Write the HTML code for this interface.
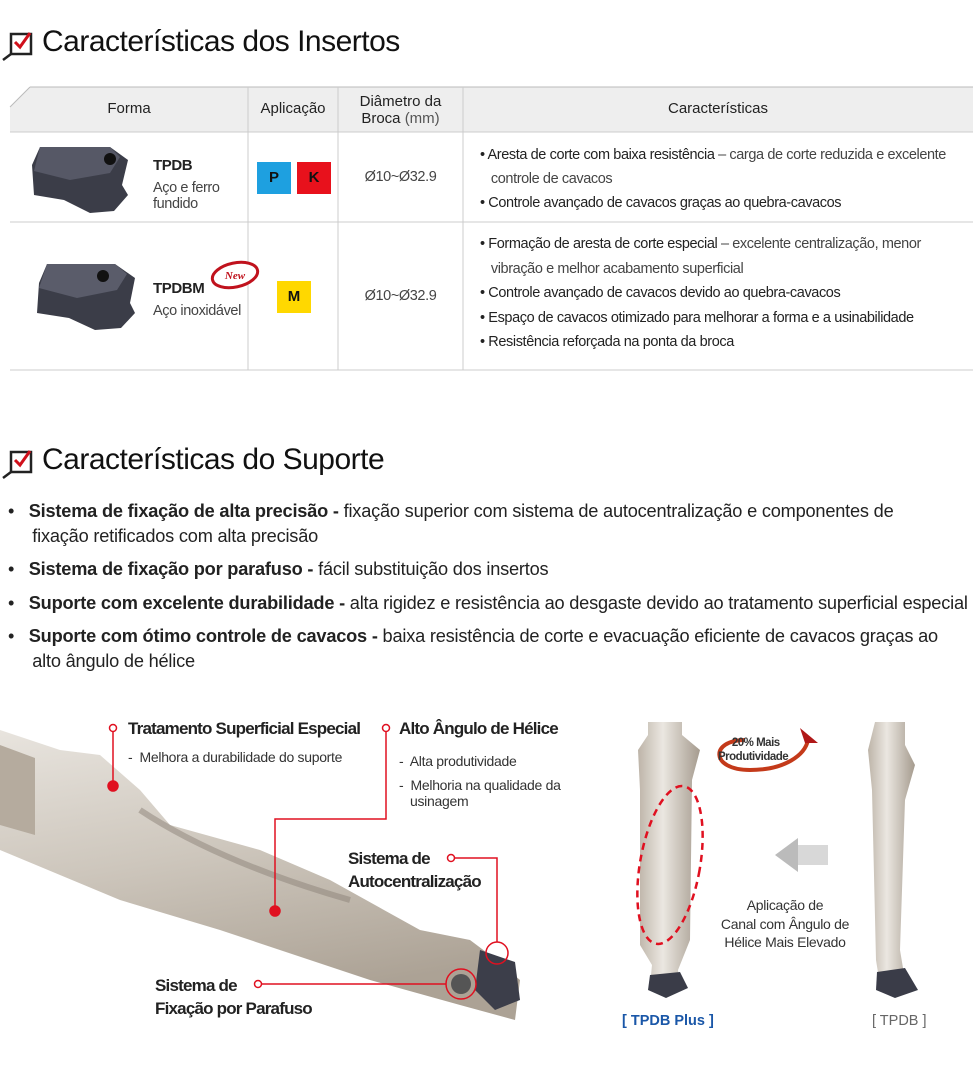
<!DOCTYPE html>
<html><head><meta charset="utf-8"><style>
body{margin:0;width:980px;height:1091px;background:#fff;position:relative;overflow:hidden;font-family:"Liberation Sans","Noto Sans CJK KR",sans-serif;color:#222}
.a{position:absolute;white-space:nowrap}
h2{position:absolute;margin:0;font-size:30px;font-weight:500;color:#111;letter-spacing:-0.5px}
.hd{font-size:15px;color:#222;text-align:center}
.t{font-size:14.5px;color:#222;letter-spacing:-0.4px}
.g{color:#444}
.sq{position:absolute;width:34px;height:32px;font:bold 15px "Liberation Sans",sans-serif;text-align:center;line-height:32px;color:#111}
.b{font-size:18.2px;color:#222;letter-spacing:-0.2px;line-height:25px}
.lab{font-size:17px;font-weight:bold;color:#222;letter-spacing:-0.8px;line-height:23px}
.sm{font-size:14px;color:#333;letter-spacing:-0.3px}
</style></head><body>

<svg class="a" style="left:2px;top:26px" width="36" height="36"><path d="M9 8h20v20H9z" fill="none" stroke="#222" stroke-width="2.5"/><path d="M13 16l5 5 10-14" fill="none" stroke="#d0101b" stroke-width="3"/><path d="M9 28L1 34" stroke="#222" stroke-width="2.5"/></svg>
<h2 style="left:42px;top:25px">Características dos Insertos</h2>

<svg class="a" style="left:0;top:85px" width="980" height="300">
<path d="M30 2H973V47H10V22z" fill="#eeeeee"/>
<path d="M30 2H973" stroke="#bbb"/><path d="M30 2L10 22" stroke="#bbb"/>
<path d="M10 47H973M10 137H973M10 285H973" stroke="#ccc"/>
<path d="M248 2V285M338 2V285M463 2V285" stroke="#ccc"/>
</svg>
<div class="a hd" style="left:10px;width:238px;top:100px">Forma</div>
<div class="a hd" style="left:248px;width:90px;top:100px">Aplicação</div>
<div class="a hd" style="left:338px;width:125px;top:93px;line-height:17px">Diâmetro da<br>Broca <span style="color:#555">(mm)</span></div>
<div class="a hd" style="left:463px;width:510px;top:100px">Características</div>

<svg class="a" style="left:30px;top:145px" width="110" height="70"><path d="M10 2H80L98 15 92 40 98 50 84 66 60 68 34 55 4 50 2 20z" fill="#3b3d48"/><path d="M10 2H80L90 12 80 28 40 35 4 26z" fill="#565866"/><circle cx="80" cy="14" r="6" fill="#111"/></svg>
<div class="a t" style="left:153px;top:157px;font-weight:bold;font-size:15px">TPDB</div>
<div class="a t g" style="left:153px;top:180px;line-height:16px">Aço e ferro<br>fundido</div>
<div class="sq" style="left:257px;top:162px;background:#1ea0e0">P</div>
<div class="sq" style="left:297px;top:162px;background:#e8111c">K</div>
<div class="a t g" style="left:338px;width:125px;text-align:center;top:169px;font-size:14.5px">Ø10~Ø32.9</div>
<div class="a t" style="left:480px;top:143px;line-height:24px">• Aresta de corte com baixa resistência <span class="g">– carga de corte reduzida e excelente</span><br><span class="g">&nbsp;&nbsp;&nbsp;controle de cavacos</span><br>• Controle avançado de cavacos graças ao quebra-cavacos</div>

<svg class="a" style="left:35px;top:258px" width="110" height="75"><path d="M12 6H80L100 20 95 45 100 55 86 70 60 72 34 60 2 55 4 25z" fill="#3b3d48"/><path d="M12 6H80L92 16 82 32 42 40 4 30z" fill="#5a5c6a"/><circle cx="68" cy="18" r="6" fill="#111"/></svg>
<div class="a t" style="left:153px;top:280px;font-weight:bold;font-size:15px">TPDBM</div>
<div class="a t g" style="left:153px;top:303px">Aço inoxidável</div>
<svg class="a" style="left:210px;top:260px" width="50" height="30"><ellipse cx="25" cy="15" rx="23" ry="12" fill="#fff" stroke="#c0121d" stroke-width="3" transform="rotate(-12 25 15)"/><text x="25" y="19" font-size="11" font-style="italic" font-weight="bold" fill="#c0121d" text-anchor="middle" font-family="Liberation Serif">New</text></svg>
<div class="sq" style="left:277px;top:281px;background:#ffd800">M</div>
<div class="a t g" style="left:338px;width:125px;text-align:center;top:288px;font-size:14.5px">Ø10~Ø32.9</div>
<div class="a t" style="left:480px;top:232px;line-height:24.5px">• Formação de aresta de corte especial <span class="g">– excelente centralização, menor</span><br><span class="g">&nbsp;&nbsp;&nbsp;vibração e melhor acabamento superficial</span><br>• Controle avançado de cavacos devido ao quebra-cavacos<br>• Espaço de cavacos otimizado para melhorar a forma e a usinabilidade<br>• Resistência reforçada na ponta da broca</div>

<svg class="a" style="left:2px;top:444px" width="36" height="36"><path d="M9 8h20v20H9z" fill="none" stroke="#222" stroke-width="2.5"/><path d="M13 16l5 5 10-14" fill="none" stroke="#d0101b" stroke-width="3"/><path d="M9 28L1 34" stroke="#222" stroke-width="2.5"/></svg>
<h2 style="left:42px;top:443px">Características do Suporte</h2>

<div class="a b" style="left:8px;top:499px">•&nbsp;&nbsp; <b>Sistema de fixação de alta precisão -</b> fixação superior com sistema de autocentralização e componentes de<br>&nbsp;&nbsp;&nbsp;&nbsp;&nbsp;fixação retificados com alta precisão</div>
<div class="a b" style="left:8px;top:557px">•&nbsp;&nbsp; <b>Sistema de fixação por parafuso -</b> fácil substituição dos insertos</div>
<div class="a b" style="left:8px;top:591px">•&nbsp;&nbsp; <b>Suporte com excelente durabilidade -</b> alta rigidez e resistência ao desgaste devido ao tratamento superficial especial</div>
<div class="a b" style="left:8px;top:624px">•&nbsp;&nbsp; <b>Suporte com ótimo controle de cavacos -</b> baixa resistência de corte e evacuação eficiente de cavacos graças ao<br>&nbsp;&nbsp;&nbsp;&nbsp;&nbsp;alto ângulo de hélice</div>

<svg class="a" style="left:0;top:700px" width="600" height="391">
<defs><linearGradient id="m" x1="0" y1="0" x2="0.3" y2="1"><stop offset="0" stop-color="#e8e4de"/><stop offset=".5" stop-color="#cdc6bc"/><stop offset="1" stop-color="#aca295"/></linearGradient></defs>
<path d="M0 30L60 50 100 55 140 90 170 125 260 150 330 180 420 230 470 240 490 255 520 280 515 320 460 305 370 280 220 230 120 200 60 175 0 150z" fill="url(#m)"/>
<path d="M0 45L35 58V135L0 125z" fill="#b5ab9e"/>
<path d="M140 110C200 150 280 180 350 200" stroke="#8c8278" stroke-width="6" fill="none" opacity=".5"/>
<path d="M480 250L515 262 520 300 495 310 475 290z" fill="#3c3e4a"/>
<circle cx="461" cy="284" r="10" fill="#555"/><circle cx="461" cy="284" r="15" fill="none" stroke="#e01020" stroke-width="1.5"/>
<circle cx="497" cy="253" r="11" fill="none" stroke="#e01020" stroke-width="1.5"/>
<g stroke="#e01020" stroke-width="1.5" fill="none">
<circle cx="113" cy="28" r="3.5" fill="#fff"/><path d="M113 32V85"/><circle cx="113" cy="86" r="5" fill="#e01020"/>
<circle cx="386" cy="28" r="3.5" fill="#fff"/><path d="M386 32V119H275V210"/><circle cx="275" cy="211" r="5" fill="#e01020"/>
<circle cx="451" cy="158" r="3.5" fill="#fff"/><path d="M455 158H497V242"/>
<circle cx="258" cy="284" r="3.5" fill="#fff"/><path d="M262 284H446"/>
</g></svg>
<div class="a lab" style="left:128px;top:717px">Tratamento Superficial Especial</div>
<div class="a sm" style="left:128px;top:749px">-&nbsp; Melhora a durabilidade do suporte</div>
<div class="a lab" style="left:399px;top:717px">Alto Ângulo de Hélice</div>
<div class="a sm" style="left:399px;top:749px;line-height:24px">-&nbsp; Alta produtividade<br>-&nbsp; Melhoria na qualidade da</div>
<div class="a sm" style="left:410px;top:793px">usinagem</div>
<div class="a lab" style="left:348px;top:847px">Sistema de<br>Autocentralização</div>
<div class="a lab" style="left:155px;top:974px">Sistema de<br>Fixação por Parafuso</div>

<svg class="a" style="left:600px;top:710px" width="380" height="330">
<defs><linearGradient id="d" x1="0" x2="1"><stop offset="0" stop-color="#bdb4a8"/><stop offset=".4" stop-color="#ebe7e1"/><stop offset="1" stop-color="#a59b8e"/></linearGradient></defs>
<path d="M48 12H82V25L100 40 92 70 90 230 78 260 80 275 50 275 52 255 40 235 40 80 38 40 48 25z" fill="url(#d)"/>
<path d="M50 265L80 262 88 278 66 288 48 280z" fill="#3a3c48"/>
<ellipse cx="70" cy="155" rx="30" ry="80" transform="rotate(10 70 155)" fill="none" stroke="#e01020" stroke-width="2.5" stroke-dasharray="7 5"/>
<path d="M275 12H305V35L315 55 305 90 300 240 305 270 280 275 276 250 272 80 268 40z" fill="url(#d)"/>
<path d="M277 262L305 258 318 280 295 288 276 280z" fill="#3a3c48"/>
<path d="M198 128L175 145 198 162V153H200V137H198z" fill="#bbb"/><rect x="198" y="135" width="30" height="20" fill="#d8d8d8"/>
<path d="M145 30C110 30 110 60 150 60 C185 60 205 45 208 30" fill="none" stroke="#c43a1a" stroke-width="4"/>
<path d="M200 18L218 33 205 33z" fill="#b01818"/>
</svg>
<div class="a" style="left:718px;top:736px;font-size:11.5px;font-weight:bold;color:#333;text-align:center;line-height:14px;letter-spacing:-0.5px">&nbsp;&nbsp;20% Mais<br>Produtividade</div>
<div class="a" style="left:700px;top:896px;width:170px;text-align:center;font-size:14px;color:#333;line-height:18.5px;letter-spacing:-0.3px">Aplicação de<br>Canal com Ângulo de<br>Hélice Mais Elevado</div>
<div class="a" style="left:622px;top:1013px;font-size:14.5px;font-weight:bold;color:#1a57a8">[ TPDB Plus ]</div>
<div class="a" style="left:872px;top:1013px;font-size:14.5px;color:#666">[ TPDB ]</div>
</body></html>
